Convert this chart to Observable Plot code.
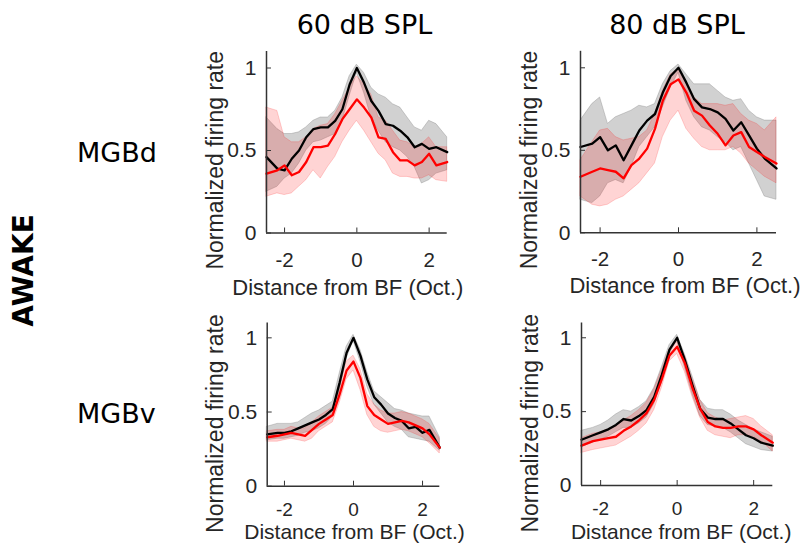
<!DOCTYPE html>
<html><head><meta charset="utf-8">
<script src="https://cdn.jsdelivr.net/npm/d3@7"></script>
<script src="https://cdn.jsdelivr.net/npm/@observablehq/plot@0.6"></script>
<style>
html,body{margin:0;padding:0;background:#fff;}
#wrap{position:relative;width:807px;height:543px;overflow:hidden;background:#fff;}
#wrap svg{position:absolute;}
</style></head><body><div id="wrap"></div>
<script>
// ---------- data ----------
const octaves = [-2.5,-2.2,-2.0,-1.8,-1.6,-1.4,-1.2,-1.0,-0.8,-0.6,-0.4,-0.2,0,0.2,0.4,0.6,0.8,1.0,1.2,1.4,1.6,1.8,2.0,2.2,2.5];
const xTicks = [-2, 0, 2];
const yTicks = [0, 0.5, 1];
const xDomain = [-2.5, 2.5];
const yDomain = [0, 1.1];
const columnTitles = ["60 dB SPL", "80 dB SPL"];
const rowLabels = ["MGBd", "MGBv"];
const stateLabel = "AWAKE";
const yLabel = "Normalized firing rate";
const xLabel = "Distance from BF (Oct.)";

// MGBd, 60 dB SPL
const d60BlackMean = [0.46,0.39,0.38,0.45,0.50,0.58,0.63,0.64,0.64,0.68,0.75,0.90,1.00,0.91,0.80,0.74,0.66,0.65,0.62,0.58,0.52,0.54,0.51,0.52,0.49];
const d60BlackLo   = [0.25,0.28,0.33,0.36,0.42,0.50,0.55,0.56,0.58,0.60,0.68,0.83,0.97,0.85,0.70,0.62,0.55,0.52,0.50,0.46,0.40,0.30,0.32,0.36,0.38];
const d60BlackHi   = [0.70,0.63,0.60,0.60,0.61,0.64,0.68,0.70,0.70,0.74,0.82,0.95,1.02,0.97,0.88,0.84,0.82,0.78,0.76,0.70,0.64,0.62,0.68,0.66,0.58];
const d60RedMean   = [0.36,0.38,0.41,0.35,0.37,0.43,0.52,0.52,0.53,0.60,0.69,0.75,0.81,0.76,0.70,0.58,0.57,0.49,0.44,0.44,0.41,0.43,0.48,0.41,0.43];
const d60RedLo     = [0.22,0.24,0.23,0.24,0.28,0.32,0.38,0.33,0.40,0.46,0.55,0.62,0.68,0.62,0.55,0.48,0.44,0.36,0.34,0.34,0.33,0.33,0.35,0.32,0.31];
const d60RedHi     = [0.76,0.74,0.58,0.55,0.55,0.58,0.63,0.65,0.66,0.72,0.80,0.88,0.95,0.90,0.84,0.70,0.68,0.62,0.56,0.55,0.52,0.54,0.58,0.52,0.52];

// MGBd, 80 dB SPL
const d80BlackMean = [0.52,0.54,0.58,0.50,0.53,0.44,0.53,0.62,0.68,0.72,0.85,0.95,1.00,0.91,0.81,0.76,0.75,0.73,0.69,0.62,0.67,0.59,0.51,0.45,0.39];
const d80BlackLo   = [0.20,0.18,0.22,0.30,0.32,0.30,0.40,0.52,0.58,0.64,0.76,0.88,0.97,0.80,0.70,0.64,0.62,0.58,0.55,0.50,0.52,0.42,0.32,0.22,0.20];
const d80BlackHi   = [0.68,0.78,0.82,0.66,0.70,0.72,0.74,0.77,0.76,0.78,0.90,0.98,1.02,0.96,0.90,0.90,0.90,0.86,0.82,0.80,0.81,0.74,0.70,0.68,0.68];
const d80RedMean   = [0.34,0.37,0.39,0.38,0.37,0.33,0.41,0.45,0.51,0.63,0.80,0.90,0.93,0.85,0.74,0.71,0.65,0.60,0.53,0.59,0.61,0.52,0.49,0.46,0.42];
const d80RedLo     = [0.22,0.17,0.16,0.17,0.20,0.22,0.26,0.30,0.36,0.42,0.58,0.68,0.74,0.63,0.57,0.52,0.50,0.50,0.50,0.52,0.48,0.42,0.38,0.34,0.30];
const d80RedHi     = [0.44,0.55,0.62,0.63,0.58,0.56,0.57,0.58,0.62,0.72,0.86,0.96,0.99,0.92,0.82,0.78,0.78,0.78,0.77,0.78,0.72,0.68,0.66,0.62,0.70];

// MGBv, 60 dB SPL
const v60BlackMean = [0.35,0.36,0.36,0.37,0.39,0.41,0.43,0.45,0.48,0.52,0.70,0.90,1.00,0.88,0.72,0.60,0.55,0.49,0.46,0.44,0.39,0.40,0.36,0.38,0.26];
const v60BlackLo   = [0.31,0.32,0.32,0.33,0.34,0.36,0.37,0.39,0.42,0.47,0.64,0.86,0.98,0.84,0.67,0.55,0.49,0.43,0.40,0.38,0.33,0.32,0.31,0.30,0.24];
const v60BlackHi   = [0.40,0.42,0.42,0.42,0.43,0.46,0.49,0.51,0.54,0.57,0.76,0.94,1.02,0.92,0.77,0.64,0.60,0.56,0.52,0.51,0.49,0.48,0.47,0.47,0.33];
const v60RedMean   = [0.33,0.34,0.35,0.36,0.35,0.34,0.38,0.42,0.45,0.48,0.62,0.78,0.84,0.73,0.54,0.48,0.45,0.42,0.43,0.44,0.43,0.41,0.39,0.35,0.26];
const v60RedLo     = [0.30,0.30,0.31,0.32,0.31,0.30,0.32,0.37,0.40,0.43,0.56,0.72,0.78,0.65,0.48,0.40,0.37,0.36,0.37,0.38,0.37,0.35,0.33,0.29,0.22];
const v60RedHi     = [0.37,0.38,0.38,0.40,0.39,0.39,0.43,0.47,0.50,0.53,0.68,0.84,0.88,0.79,0.62,0.55,0.51,0.49,0.49,0.50,0.49,0.47,0.45,0.42,0.32];

// MGBv, 80 dB SPL
const v80BlackMean = [0.31,0.34,0.36,0.38,0.41,0.45,0.44,0.47,0.51,0.60,0.75,0.92,1.00,0.85,0.68,0.52,0.46,0.45,0.45,0.42,0.38,0.34,0.32,0.29,0.27];
const v80BlackLo   = [0.26,0.29,0.31,0.33,0.36,0.39,0.39,0.42,0.46,0.55,0.70,0.89,0.98,0.80,0.62,0.47,0.41,0.40,0.39,0.36,0.32,0.28,0.26,0.24,0.23];
const v80BlackHi   = [0.37,0.39,0.41,0.44,0.48,0.51,0.50,0.53,0.57,0.66,0.80,0.95,1.02,0.89,0.74,0.58,0.52,0.51,0.51,0.48,0.44,0.41,0.38,0.36,0.33];
const v80RedMean   = [0.27,0.30,0.31,0.32,0.33,0.37,0.40,0.44,0.49,0.58,0.72,0.88,0.94,0.83,0.66,0.52,0.43,0.40,0.39,0.39,0.40,0.40,0.38,0.34,0.29];
const v80RedLo     = [0.22,0.24,0.25,0.26,0.27,0.30,0.33,0.37,0.42,0.51,0.66,0.84,0.89,0.77,0.60,0.46,0.37,0.34,0.33,0.32,0.34,0.34,0.33,0.30,0.23];
const v80RedHi     = [0.32,0.35,0.36,0.38,0.40,0.44,0.47,0.51,0.56,0.65,0.78,0.92,0.97,0.88,0.72,0.58,0.49,0.46,0.44,0.45,0.46,0.47,0.45,0.40,0.34];

// ---------- layout ----------
const AX = "#333333";
const TXT = "#262626";
const SANS = "'Liberation Sans', Arial, sans-serif";
const DEJAVU = "'DejaVu Sans', Verdana, sans-serif";

const panels = [
  {series: [d60BlackMean, d60BlackLo, d60BlackHi, d60RedMean, d60RedLo, d60RedHi],
   box: {left: 170, top: 30, width: 300, height: 270, ml: 96, mr: 23.3, mt: 21, mb: 67.5},
   tickPad: 24, tickFont: 20.5, xLabFont: 22, xLab: {dx: -9, dy: 61.5}, yLab: {dx: -44, dy: 18}},
  {series: [d80BlackMean, d80BlackLo, d80BlackHi, d80RedMean, d80RedLo, d80RedHi],
   box: {left: 484, top: 30, width: 323, height: 270, ml: 96, mr: 31, mt: 20.8, mb: 67.7},
   tickPad: 24, tickFont: 20.5, xLabFont: 22, xLab: {dx: 6.5, dy: 59.7}, yLab: {dx: -44, dy: 18}},
  {series: [v60BlackMean, v60BlackLo, v60BlackHi, v60RedMean, v60RedLo, v60RedHi],
   box: {left: 170, top: 300, width: 300, height: 243, ml: 96.7, mr: 30.7, mt: 22.5, mb: 57.3},
   tickPad: 21, tickFont: 19, xLabFont: 21, xLab: {dx: 1, dy: 52.8}, yLab: {dx: -44, dy: 19}},
  {series: [v80BlackMean, v80BlackLo, v80BlackHi, v80RedMean, v80RedLo, v80RedHi],
   box: {left: 484, top: 300, width: 323, height: 243, ml: 97, mr: 34.7, mt: 22.5, mb: 58},
   tickPad: 21, tickFont: 19, xLabFont: 21, xLab: {dx: 4, dy: 53.3}, yLab: {dx: -44, dy: 19}}
];

const wrap = document.getElementById("wrap");

for (const p of panels) {
  const [bm, bl, bh, rm, rl, rh] = p.series;
  const rows = octaves.map((x, i) => ({x, bm: bm[i], bl: bl[i], bh: bh[i], rm: rm[i], rl: rl[i], rh: rh[i]}));
  const b = p.box;
  const svg = Plot.plot({
    width: b.width, height: b.height,
    marginLeft: b.ml, marginRight: b.mr, marginTop: b.mt, marginBottom: b.mb,
    style: {background: "transparent", overflow: "visible", fontFamily: SANS},
    x: {domain: xDomain},
    y: {domain: yDomain},
    marks: [
      Plot.areaY(rows, {x: "x", y1: "bl", y2: "bh", fill: "#808080", fillOpacity: 0.36, stroke: "#808080", strokeOpacity: 0.45, strokeWidth: 0.8}),
      Plot.areaY(rows, {x: "x", y1: "rl", y2: "rh", fill: "#ff0000", fillOpacity: 0.17, stroke: "#ff0000", strokeOpacity: 0.22, strokeWidth: 0.8}),
      Plot.lineY(rows, {x: "x", y: "bm", stroke: "#000000", strokeWidth: 2.3}),
      Plot.lineY(rows, {x: "x", y: "rm", stroke: "#ff0000", strokeWidth: 2.3}),
      Plot.ruleX([xDomain[0]], {stroke: AX, strokeWidth: 1.5}),
      Plot.ruleY([yDomain[0]], {stroke: AX, strokeWidth: 1.5}),
      Plot.axisX({ticks: xTicks, tickFormat: d => String(d), tickSize: -5, tickPadding: p.tickPad, label: null,
                  fontSize: p.tickFont, fontFamily: SANS, fill: TXT, stroke: AX}),
      Plot.axisY({ticks: yTicks, tickFormat: d => String(d), tickSize: -5, tickPadding: 15, label: null,
                  fontSize: 21, fontFamily: SANS, fill: TXT, stroke: AX}),
      Plot.text([yLabel], {text: d => d, frameAnchor: "left", rotate: -90, dx: p.yLab.dx, dy: p.yLab.dy,
                  lineAnchor: "bottom", textAnchor: "middle", fontSize: 23, fontFamily: SANS, fill: TXT}),
      Plot.text([xLabel], {text: d => d, frameAnchor: "bottom", dx: p.xLab.dx, dy: p.xLab.dy,
                  lineAnchor: "bottom", textAnchor: "middle", fontSize: p.xLabFont, fontFamily: SANS, fill: TXT})
    ]
  });
  svg.style.left = b.left + "px";
  svg.style.top = b.top + "px";
  wrap.appendChild(svg);
}

// ---------- titles and row labels ----------
const ov = d3.select(wrap).append("svg")
  .attr("width", 807).attr("height", 543)
  .style("left", "0px").style("top", "0px").style("pointer-events", "none");

const colX = [364.5, 677];
columnTitles.forEach((t, i) => {
  ov.append("text").attr("x", colX[i]).attr("y", 34).attr("text-anchor", "middle")
    .attr("font-family", DEJAVU).attr("font-size", 27).attr("fill", "#000").text(t);
});
const rowY = [162, 423];
rowLabels.forEach((t, i) => {
  ov.append("text").attr("x", 77).attr("y", rowY[i]).attr("text-anchor", "start")
    .attr("font-family", DEJAVU).attr("font-size", 27).attr("fill", "#000").text(t);
});
ov.append("text").attr("transform", "translate(33,270.5) rotate(-90)").attr("text-anchor", "middle")
  .attr("font-family", DEJAVU).attr("font-weight", "bold").attr("font-size", 28).attr("fill", "#000").text(stateLabel);
</script></body></html>
